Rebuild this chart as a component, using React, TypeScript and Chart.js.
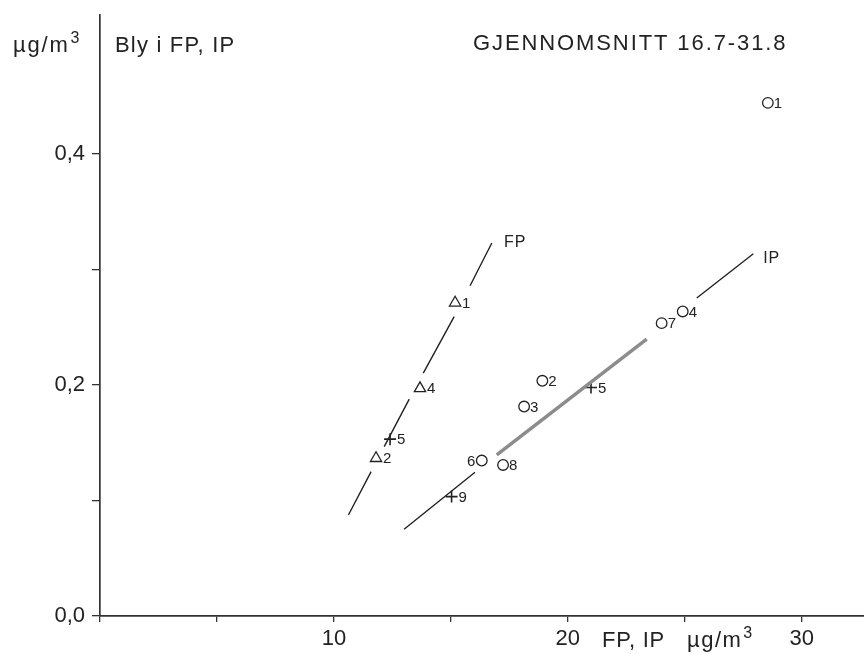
import React, { useEffect, useRef } from 'react';
import { Chart, registerables } from 'chart.js';

Chart.register(...registerables);

// ---- data ----
// FP (fine particles) – triangles
const fpX = [15.18, 13.68, 11.8];
const fpY = [0.271, 0.197, 0.1365];
const fpLabels = ['1', '4', '2'];

// IP (inhalable particles) – circles
const ipX = [28.55, 18.91, 18.13, 24.91, 16.32, 24.01, 17.23];
const ipY = [0.444, 0.2035, 0.1812, 0.2635, 0.1345, 0.2534, 0.1307];
const ipLabels = ['1', '2', '3', '4', '6', '7', '8'];
const ipLabelSide = ['r', 'r', 'r', 'r', 'l', 'r', 'r'];

// crosses
const crossX = [12.4, 20.99, 15.03];
const crossY = [0.153, 0.1977, 0.1033];
const crossLabels = ['5', '5', '9'];

// FP line (drawn in pieces, broken around markers)
const fpSegX0 = [10.62, 12.15, 13.82, 15.82];
const fpSegY0 = [0.0874, 0.1466, 0.2101, 0.2857];
const fpSegX1 = [11.59, 13.22, 15.14, 16.75];
const fpSegY1 = [0.1249, 0.1876, 0.2591, 0.3227];

// IP line: thin pieces and a thick grey middle piece
const ipThinX0 = [13.0, 25.51];
const ipThinY0 = [0.0751, 0.2751];
const ipThinX1 = [16.03, 27.93];
const ipThinY1 = [0.1244, 0.3134];
const ipThickX = [16.96, 23.37];
const ipThickY = [0.1394, 0.2396];

// line labels
const lineLabelText = ['FP', 'IP'];
const lineLabelX = [17.27, 28.35];
const lineLabelY = [0.3229, 0.309];

// axes
const xMin = 0;
const xMax = 32.66;
const yMin = 0;
const yMax = 0.52;
const xTicks = [0, 5, 10, 15, 20, 25, 30];
const xTickLabels = ['', '', '10', '', '20', '', '30'];
const yTicks = [0, 0.1, 0.2, 0.3, 0.4];
const yTickLabels = ['0,0', '', '0,2', '', '0,4'];

const FONT = '"Liberation Sans", Arial, Helvetica, sans-serif';
const INK = '#222';

function segData(x0: number[], y0: number[], x1: number[], y1: number[]) {
  const out: any[] = [];
  x0.forEach((_, i) => {
    out.push({ x: x0[i], y: y0[i] });
    out.push({ x: x1[i], y: y1[i] });
    out.push({ x: x1[i], y: null });
  });
  return out;
}

function drawUnit(ctx: CanvasRenderingContext2D, x: number, baseline: number, size: number, spacing: number) {
  ctx.font = `${size}px ${FONT}`;
  (ctx as any).letterSpacing = spacing + 'px';
  ctx.textAlign = 'left';
  ctx.textBaseline = 'alphabetic';
  ctx.fillText('µg/m', x, baseline);
  const w = ctx.measureText('µg/m').width;
  ctx.font = `${Math.round(size * 0.72)}px ${FONT}`;
  ctx.fillText('3', x + w + 1, baseline - size * 0.42);
}

const textPlugin = {
  id: 'textPlugin',
  afterDatasetsDraw(chart: any) {
    const { ctx } = chart;
    const xs = chart.scales.x;
    const ys = chart.scales.y;
    ctx.save();
    ctx.fillStyle = INK;
    ctx.textBaseline = 'middle';
    ctx.font = `15px ${FONT}`;
    (ctx as any).letterSpacing = '0.5px';
    fpX.forEach((v, i) => {
      ctx.textAlign = 'left';
      ctx.fillText(fpLabels[i], xs.getPixelForValue(v) + 7, ys.getPixelForValue(fpY[i]) + 1);
    });
    ipX.forEach((v, i) => {
      const px = xs.getPixelForValue(v);
      const py = ys.getPixelForValue(ipY[i]) + 1;
      if (ipLabelSide[i] === 'l') {
        ctx.textAlign = 'right';
        ctx.fillText(ipLabels[i], px - 6, py);
      } else {
        ctx.textAlign = 'left';
        ctx.fillText(ipLabels[i], px + 6, py);
      }
    });
    crossX.forEach((v, i) => {
      ctx.textAlign = 'left';
      ctx.fillText(crossLabels[i], xs.getPixelForValue(v) + 7, ys.getPixelForValue(crossY[i]) + 1);
    });
    ctx.font = `16px ${FONT}`;
    (ctx as any).letterSpacing = '1px';
    lineLabelText.forEach((t, i) => {
      ctx.textAlign = 'left';
      ctx.fillText(t, xs.getPixelForValue(lineLabelX[i]), ys.getPixelForValue(lineLabelY[i]));
    });
    ctx.restore();
  },
  afterDraw(chart: any) {
    const { ctx } = chart;
    ctx.save();
    ctx.fillStyle = INK;
    // top texts
    drawUnit(ctx, 13, 52, 22, 1.8);
    ctx.font = `22px ${FONT}`;
    (ctx as any).letterSpacing = '1.2px';
    ctx.textAlign = 'left';
    ctx.textBaseline = 'alphabetic';
    ctx.fillText('Bly i FP, IP', 115, 52);
    (ctx as any).letterSpacing = '1.9px';
    ctx.fillText('GJENNOMSNITT 16.7-31.8', 473, 50);
    // x axis title
    (ctx as any).letterSpacing = '0.8px';
    ctx.fillText('FP, IP', 602, 647);
    drawUnit(ctx, 687, 647, 22, 1.5);
    ctx.restore();
  },
};

export default function App() {
  const ref = useRef<HTMLCanvasElement>(null);
  useEffect(() => {
    const canvas = ref.current!;
    const chart = new Chart(canvas, {
      type: 'scatter',
      data: {
        datasets: [
          {
            label: 'FP line',
            data: segData(fpSegX0, fpSegY0, fpSegX1, fpSegY1),
            showLine: true,
            spanGaps: false,
            borderColor: INK,
            borderWidth: 1.4,
            pointRadius: 0,
          },
          {
            label: 'IP line',
            data: segData(ipThinX0, ipThinY0, ipThinX1, ipThinY1),
            showLine: true,
            spanGaps: false,
            borderColor: INK,
            borderWidth: 1.4,
            pointRadius: 0,
          },
          {
            label: 'IP line thick',
            data: ipThickX.map((v, i) => ({ x: v, y: ipThickY[i] })),
            showLine: true,
            borderColor: '#8c8c8c',
            borderWidth: 3.5,
            pointRadius: 0,
          },
          {
            label: 'FP',
            data: fpX.map((v, i) => ({ x: v, y: fpY[i] })),
            pointStyle: 'triangle',
            pointRadius: 6.5,
            borderColor: INK,
            backgroundColor: 'rgba(255,255,255,0)',
            borderWidth: 1.3,
          },
          {
            label: 'IP',
            data: ipX.map((v, i) => ({ x: v, y: ipY[i] })),
            pointStyle: 'circle',
            pointRadius: 5.3,
            borderColor: INK,
            backgroundColor: 'rgba(255,255,255,0)',
            borderWidth: 1.3,
          },
          {
            label: 'cross',
            data: crossX.map((v, i) => ({ x: v, y: crossY[i] })),
            pointStyle: 'cross',
            pointRadius: 6,
            borderColor: INK,
            borderWidth: 1.6,
          },
        ],
      },
      options: {
        responsive: false,
        animation: false,
        events: [],
        layout: { autoPadding: false, padding: { top: 15, right: 0, left: 0, bottom: 0 } },
        plugins: {
          legend: { display: false },
          tooltip: { enabled: false },
          title: { display: false },
        },
        scales: {
          x: {
            type: 'linear',
            min: xMin,
            max: xMax,
            afterBuildTicks: (s: any) => {
              s.ticks = xTicks.map((v) => ({ value: v }));
            },
            afterFit: (s: any) => {
              s.height = 38;
              s.paddingLeft = 0;
              s.paddingRight = 0;
            },
            grid: { display: true, drawOnChartArea: false, drawTicks: true, tickLength: 6, color: '#333', lineWidth: 1.3 },
            border: { display: true, color: '#333', width: 1.7 },
            ticks: {
              autoSkip: false,
              maxRotation: 0,
              padding: 4,
              color: INK,
              font: { family: FONT, size: 22 },
              callback: (_v: any, i: number) => xTickLabels[i] ?? '',
            },
          },
          y: {
            type: 'linear',
            min: yMin,
            max: yMax,
            afterBuildTicks: (s: any) => {
              s.ticks = yTicks.map((v) => ({ value: v }));
            },
            afterFit: (s: any) => {
              s.width = 100;
              s.paddingTop = 0;
              s.paddingBottom = 0;
            },
            grid: { display: true, drawOnChartArea: false, drawTicks: true, tickLength: 8, color: '#333', lineWidth: 1.3 },
            border: { display: true, color: '#333', width: 1.7 },
            ticks: {
              autoSkip: false,
              padding: 7,
              color: INK,
              font: { family: FONT, size: 22 },
              callback: (_v: any, i: number) => yTickLabels[i] ?? '',
            },
          },
        },
      } as any,
      plugins: [textPlugin],
    });
    return () => chart.destroy();
  }, []);
  return (
    <div style={{ position: 'fixed', left: 0, top: 0, width: 864, height: 654, background: '#fff' }}>
      <canvas ref={ref} width={864} height={654} style={{ display: 'block' }} />
    </div>
  );
}
